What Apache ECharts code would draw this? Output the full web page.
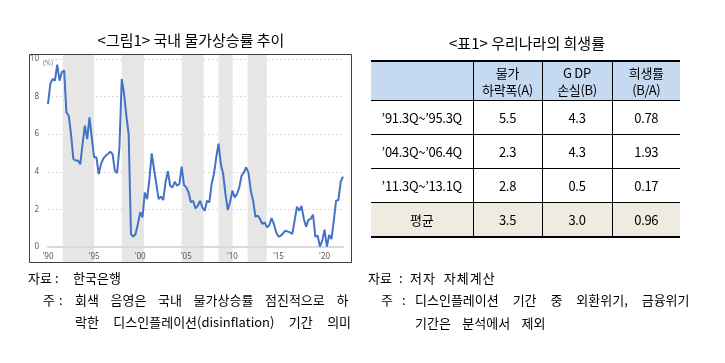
<!DOCTYPE html>
<html><head><meta charset="utf-8">
<script src="https://cdn.jsdelivr.net/npm/echarts@6/dist/echarts.min.js"></script>
<style>
html,body{margin:0;padding:0;background:#fff;width:725px;height:363px;overflow:hidden;font-family:"Noto Sans CJK KR","Noto Sans",sans-serif;color:#000;}
#chart{position:absolute;left:0;top:0;width:725px;height:363px;}
.t{position:absolute;white-space:nowrap;height:20px;line-height:20px;font-size:13px;}
.title{position:absolute;white-space:nowrap;height:24px;line-height:24px;font-size:15px;text-align:center;}
#tbl{position:absolute;left:371px;top:60px;width:309px;border-collapse:collapse;table-layout:fixed;border-top:2px solid #000;border-bottom:2px solid #000;font-size:13px;letter-spacing:-0.3px;}
#tbl td{padding:0;text-align:center;vertical-align:middle;border-left:1px solid #000;border-right:1px solid #000;border-bottom:1px solid #000;}
#tbl td:first-child{border-left:none;}
#tbl td:last-child{border-right:none;}
#tbl tr.hd td{background:#c5d9f1;height:38px;line-height:17px;}
#tbl tr.bd td{height:33px;line-height:17px;}
#tbl tr.avg td{background:#efebe1;}
</style></head>
<body>
<div id="chart"></div>
<div class="title" style="left:40px;top:28px;width:302px;">&lt;그림1&gt; 국내 물가상승률 추이</div>
<div class="title" style="left:377px;top:31px;width:300px;">&lt;표1&gt; 우리나라의 희생률</div>
<table id="tbl"><colgroup><col style="width:102px"><col style="width:69px"><col style="width:70px"><col style="width:68px"></colgroup><tbody id="tb"></tbody></table>

<div class="t" style="left:28px;top:268px;">자료</div>
<div class="t" style="left:55px;top:268px;">:</div>
<div class="t" style="left:73px;top:268px;">한국은행</div>
<div class="t" style="left:43px;top:290px;">주</div>
<div class="t" style="left:59px;top:290px;">:</div>
<div class="t" style="left:75px;top:290px;word-spacing:8.7px;">회색 음영은 국내 물가상승률 점진적으로 하</div>
<div class="t" style="left:75px;top:312px;word-spacing:11.5px;">락한 디스인플레이션(disinflation) 기간 의미</div>

<div class="t" style="left:368px;top:268px;">자료</div>
<div class="t" style="left:399px;top:268px;">:</div>
<div class="t" style="left:410px;top:268px;word-spacing:4px;letter-spacing:1px;">저자 자체계산</div>
<div class="t" style="left:381px;top:290px;">주</div>
<div class="t" style="left:402px;top:290px;">:</div>
<div class="t" style="left:415px;top:290px;word-spacing:11px;">디스인플레이션 기간 중 외환위기, 금융위기</div>
<div class="t" style="left:415px;top:313px;word-spacing:8.5px;">기간은 분석에서 제외</div>

<script>
// ---- data ----
const xTickLabels = ["'90", "'95", "'00", "'05", "'10", "'15", "'20"]; // every 20 quarters from 1990Q1
const inflation = [ // quarterly CPI inflation (%), 1990Q1 .. 2022Q1
  7.6, 8.67, 8.94, 8.85,
  9.7, 8.85, 9.3, 9.38,
  7.16, 6.98, 6.0, 4.68,
  4.6, 4.6, 4.4, 5.48,
  6.45, 5.74, 6.9, 5.83,
  4.77, 4.77, 3.88, 4.41,
  4.7, 4.85, 4.95, 5.07,
  4.95, 4.06, 3.94, 5.3,
  8.94, 8.14, 6.98, 6.0,
  0.69, 0.55, 0.69, 1.22,
  1.85, 1.58, 2.9, 2.55,
  3.6, 4.98, 4.15, 3.35,
  2.55, 2.68, 2.5, 3.44,
  4.03, 3.26, 3.17, 3.47,
  3.26, 3.35, 4.27, 3.3,
  3.17, 2.9, 2.38, 2.45,
  2.05, 2.2, 2.46, 2.1,
  1.93, 2.46, 2.38, 3.35,
  3.88, 4.77, 5.5, 4.41,
  3.88, 2.82, 1.97, 2.38,
  3.0, 2.64, 2.82, 3.17,
  3.8, 3.97, 4.24, 3.94,
  3.0, 2.46, 1.61, 1.67,
  1.49, 1.22, 1.31, 1.05,
  1.14, 1.54, 1.22, 0.78,
  0.55, 0.6, 0.73, 0.87,
  0.82, 0.78, 0.69, 1.4,
  2.14, 1.93, 2.18, 1.49,
  1.08, 1.44, 1.5, 1.72,
  0.55, 0.6, 0.02, 0.34,
  0.92, 0.02, 0.64, 0.42,
  1.4, 2.46, 2.5, 3.47,
  3.74
];
const disinflationStart = [6.4, 31.9, 58.0, 74.0, 86.6];   // quarter index from 1990Q1
const disinflationEnd   = [20.0, 41.7, 67.5, 80.1, 94.9];

const tableHeader = ["", "물가\n하락폭(A)", "G DP\n손실(B)", "희생률\n(B/A)"];
const periods = ["’91.3Q~’95.3Q", "’04.3Q~’06.4Q", "’11.3Q~’13.1Q", "평균"];
const priceDrop = ["5.5", "2.3", "2.8", "3.5"];
const gdpLoss = ["4.3", "4.3", "0.5", "3.0"];
const sacrificeRatio = ["0.78", "1.93", "0.17", "0.96"];

// ---- table ----
const tb = document.getElementById('tb');
let html = '<tr class="hd">' + tableHeader.map(h => '<td>' + h.replace('\n', '<br>') + '</td>').join('') + '</tr>';
periods.forEach((p, i) => {
  html += '<tr class="bd' + (i === periods.length - 1 ? ' avg' : '') + '"><td>' + p + '</td><td>' + priceDrop[i] + '</td><td>' + gdpLoss[i] + '</td><td>' + sacrificeRatio[i] + '</td></tr>';
});
tb.innerHTML = html;

// ---- chart ----
const chart = echarts.init(document.getElementById('chart'), null, {renderer: 'canvas'});
const n = inflation.length - 1;
chart.setOption({
  animation: false,
  grid: [
    {left: 48, top: 59, width: 295, height: 188},
    {left: 48, top: 55, width: 295, height: 207}
  ],
  xAxis: [
    {type: 'value', gridIndex: 0, min: 0, max: n, interval: 20, z: 5,
     axisLine: {show: true, onZero: false, lineStyle: {color: '#d9d9d9', width: 2}},
     axisTick: {show: false}, splitLine: {show: false},
     axisLabel: {color: '#595959', fontSize: 8, margin: 6, fontFamily: 'Noto Sans',
       formatter: v => (Number.isInteger(v / 20) && xTickLabels[v / 20]) ? xTickLabels[v / 20] : ''}},
    {type: 'value', gridIndex: 1, min: 0, max: n, show: false}
  ],
  yAxis: [
    {type: 'value', gridIndex: 0, min: 0, max: 10, interval: 2,
     axisLine: {show: false}, axisTick: {show: false},
     axisLabel: {color: '#595959', fontSize: 8, margin: 9, fontFamily: 'Noto Sans'},
     splitLine: {lineStyle: {color: '#d9d9d9', type: [2, 2], width: 1}}},
    {type: 'value', gridIndex: 1, min: 0, max: 1, show: false}
  ],
  series: [
    {type: 'line', xAxisIndex: 1, yAxisIndex: 1, data: [[0, 0]], symbol: 'none', silent: true,
     lineStyle: {opacity: 0}, z: 1,
     markArea: {silent: true, itemStyle: {color: '#e6e6e6'},
       data: disinflationStart.map((s, i) => [{xAxis: s}, {xAxis: disinflationEnd[i]}])}},
    {type: 'line', xAxisIndex: 0, yAxisIndex: 0, data: inflation.map((v, i) => [i, v]),
     symbol: 'none', z: 6, lineStyle: {color: '#4472c4', width: 2}}
  ],
  graphic: [
    {type: 'rect', z: 10, shape: {x: 29.5, y: 54.5, width: 322, height: 208},
     style: {fill: null, stroke: '#404040', lineWidth: 1}},
    {type: 'text', z: 10, x: 48, y: 63, style: {text: '(%)', fontSize: 7, fill: '#7f7f7f', align: 'center', verticalAlign: 'middle', fontFamily: 'Noto Sans'}}
  ]
});
</script>
</body></html>
